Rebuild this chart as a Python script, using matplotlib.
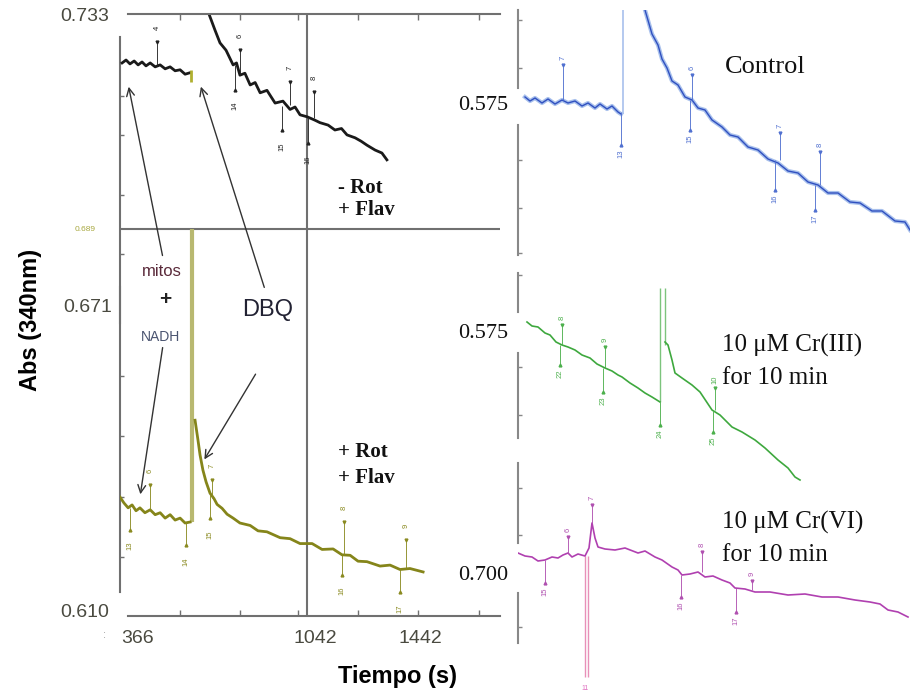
import numpy as np
import matplotlib.pyplot as plt

# ---------------- data ----------------
# left panel: time (s) vs Abs(340nm)
blk1_t = [309, 324, 339, 355, 370, 385, 400, 416, 435, 454, 473, 492, 511, 530, 549, 568]
blk1_a = [.7230, .7236, .7228, .7234, .7226, .7232, .7224, .7230, .7222, .7226, .7218, .7222,
          .7214, .7216, .7207, .7210]
blk2_t = [640, 663, 682, 705, 732, 745, 758, 777, 797, 816, 835, 861, 892, 922, 949, 968, 987,
          1014, 1044, 1063, 1094, 1120, 1145, 1166, 1197, 1220, 1242, 1273, 1299, 1318]
blk2_a = [.7330, .7297, .7271, .7256, .7226, .7230, .7205, .7209, .7185, .7190, .7169, .7174,
          .7148, .7152, .7135, .7140, .7124, .7120, .7113, .7108, .7103, .7093, .7096, .7083,
          .7077, .7070, .7062, .7052, .7046, .7032]

olv1_t = [301, 316, 332, 347, 362, 377, 396, 416, 435, 454, 473, 492, 511, 530, 549, 568]
olv1_a = [.6343, .6331, .6321, .6327, .6315, .6321, .6311, .6317, .6307, .6311, .6300, .6307,
          .6296, .6300, .6290, .6292]
olv2_t = [587, 598, 606, 617, 629, 644, 659, 671, 690, 709, 732, 758, 797, 827, 861, 911, 949,
          987, 1033, 1071, 1113, 1147, 1178, 1208, 1242, 1292, 1330, 1368, 1406, 1456]
olv2_a = [.6500, .6460, .6429, .6398, .6374, .6351, .6340, .6328, .6320, .6308, .6300, .6290,
          .6285, .6274, .6272, .6260, .6258, .6248, .6248, .6236, .6237, .6225, .6224, .6212,
          .6211, .6202, .6204, .6195, .6197, .6190]
olv_spike_t = 576
olv_spike_a = (.6292, .689)

# event marks: time, trace value, tip value, label
blk_mk_t = [442, 758, 739, 949, 918, 1040, 1017]
blk_mk_a0 = [.7224, .7205, .7226, .7144, .7142, .7117, .7117]
blk_mk_a1 = [.7273, .7256, .7175, .7191, .7093, .7171, .7066]
blk_mk_lbl = ['4', '6', '14', '7', '15', '8', '16']

olv_mk_t = [416, 339, 553, 652, 644, 1155, 1147, 1391, 1368]
olv_mk_a0 = [.6317, .6321, .6292, .6341, .6347, .6225, .6225, .6198, .6198]
olv_mk_a1 = [.6368, .6276, .6245, .6378, .6300, .6292, .6184, .6255, .6149]
olv_mk_lbl = ['6', '13', '14', '7', '15', '8', '16', '9', '17']

left_xticks = [530, 758, 979, 1208, 1437, 1669]
left_yticks = [.71625, .70828, .69602, .68397, .65904, .64679, .63432, .62207]

# right panels: time (s) vs Abs
ctl1_t = [28, 48, 68, 96, 120, 148, 176, 200, 228, 256, 280, 308, 328, 356, 376, 400, 412]
ctl1_a = [.5766, .5762, .5765, .5760, .5764, .5759, .5763, .5760, .5762, .5757, .5760, .5755,
          .5759, .5754, .5757, .5751, .5749]
ctl2_t = [508, 536, 560, 576, 596, 616, 640, 668, 696, 720, 748, 776, 816, 848, 880, 920, 960,
          1000, 1040, 1080, 1120, 1160, 1200, 1240, 1280, 1328, 1368, 1416, 1456, 1508, 1548, 1568]
ctl2_a = [.5853, .5829, .5818, .5804, .5795, .5782, .5778, .5766, .5763, .5755, .5753, .5743,
          .5736, .5728, .5726, .5716, .5713, .5704, .5700, .5692, .5690, .5681, .5678, .5670,
          .5670, .5661, .5660, .5652, .5652, .5642, .5641, .5633]
ctl_mk_t = [180, 412, 696, 688, 1048, 1028, 1208, 1188]
ctl_mk_a0 = [.5763, .5751, .5763, .5763, .5703, .5703, .5678, .5678]
ctl_mk_a1 = [.5798, .5718, .5788, .5733, .5730, .5673, .5711, .5653]
ctl_mk_lbl = ['7', '13', '6', '15', '7', '16', '8', '17']

cr3_1_t = [36, 56, 80, 108, 128, 152, 176, 200, 228, 256, 288, 316, 348, 376, 400, 416, 448,
           480, 508, 536, 568]
cr3_1_a = [.5761, .5757, .5756, .5750, .5748, .5741, .5738, .5736, .5733, .5728, .5725, .5719,
           .5715, .5712, .5708, .5706, .5700, .5695, .5690, .5686, .5681]
cr3_2_t = [588, 600, 616, 628, 656, 696, 728, 776, 808, 856, 896, 948, 988, 1040, 1080, 1108, 1128]
cr3_2_a = [.5741, .5738, .5723, .5710, .5705, .5698, .5691, .5673, .5668, .5656, .5651, .5643,
           .5635, .5623, .5615, .5606, .5603]
cr3_mk_t = [176, 168, 348, 340, 568, 788, 780]
cr3_mk_a0 = [.5738, .5738, .5715, .5715, .5681, .5673, .5673]
cr3_mk_a1 = [.5758, .5718, .5736, .5691, .5658, .5695, .5651]
cr3_mk_lbl = ['8', '22', '9', '23', '24', '10', '25']

cr6_t = [0, 28, 56, 80, 108, 136, 160, 180, 200, 216, 240, 268, 284, 296, 308, 320, 348, 388,
         428, 480, 508, 548, 576, 616, 640, 656, 688, 720, 748, 780, 816, 848, 868, 908, 948,
         1008, 1080, 1148, 1216, 1280, 1348, 1408, 1448, 1480, 1520, 1560]
cr6_a = [.7022, .7019, .7018, .7014, .7015, .7018, .7017, .7020, .7022, .7018, .7021, .7019,
         .7027, .7052, .7037, .7028, .7026, .7025, .7027, .7022, .7024, .7018, .7015, .7008,
         .7005, .7000, .7001, .7003, .6998, .6999, .6995, .6992, .6987, .6986, .6983, .6983,
         .6980, .6981, .6978, .6978, .6975, .6973, .6971, .6965, .6963, .6958]
cr6_mk_t = [108, 200, 296, 652, 736, 872, 936]
cr6_mk_a0 = [.7015, .7022, .7052, .7000, .7003, .6987, .6985]
cr6_mk_a1 = [.6992, .7038, .7070, .6978, .7023, .6963, .6994]
cr6_mk_lbl = ['15', '6', '7', '16', '8', '17', '9']

SANS = 'Liberation Sans'
SERIF = 'Liberation Serif'
GRAY = '#707070'


def px_box(x0, y0, x1, y1):
    # axes rectangle from pixel edges of the 910x694 canvas (origin top-left)
    return [x0 / 910, 1 - y1 / 694, (x1 - x0) / 910, (y1 - y0) / 694]


def marks(ax, t, a0, a1, lbl, color):
    lo, hi = ax.get_ylim()
    off = 0.02 * (hi - lo)
    ax.vlines(t, a0, a1, color=color, lw=0.7, alpha=0.9)
    for ti, p, q, s in zip(t, a0, a1, lbl):
        up = q > p
        ax.plot(ti, q, marker='v' if up else '^', ms=2, color=color)
        ax.text(ti, q + (off if up else -off), s, rotation=90, fontsize=5.5, color=color,
                ha='center', va='bottom' if up else 'top', family=SANS)


fig = plt.figure(figsize=(9.1, 6.94), dpi=100)

# ---------------- left panel ----------------
ax = fig.add_axes(px_box(120, 14, 500, 616))
ax.patch.set_alpha(0)
ax.set_xlim(301, 1749)
ax.set_ylim(0.610, 0.733)
for s in ['left', 'right']:
    ax.spines[s].set_visible(False)
for s in ['top', 'bottom']:
    ax.spines[s].set_bounds(332, 1749)
    ax.spines[s].set_color(GRAY)
    ax.spines[s].set_linewidth(1.5)
ax.axhline(0.689, color=GRAY, lw=1.5)
ax.axvline(1014, color=GRAY, lw=1.5)
ax.axvline(301, ymin=0.040, ymax=0.5465, color=GRAY, lw=1.5, clip_on=False)
ax.axvline(301, ymin=0.4867, ymax=0.9618, color=GRAY, lw=1.5, clip_on=False)
ax.set_xticks(left_xticks)
ax.set_xticklabels([])
ax.set_yticks(left_yticks)
ax.set_yticklabels([])
ax.tick_params(axis='x', top=True, bottom=True, direction='in', length=4, color=GRAY, width=1)
ax.tick_params(axis='y', left=True, direction='in', length=3, color=GRAY, width=1)

# black trace (- Rot + Flav)
ax.plot(blk1_t, blk1_a, color='#1a1a1a', lw=2)
ax.plot(blk2_t, blk2_a, color='#1a1a1a', lw=2)
ax.vlines(572, .7191, .7216, color='#b0b030', lw=2)
marks(ax, blk_mk_t, blk_mk_a0, blk_mk_a1, blk_mk_lbl, '#222222')

# olive trace (+ Rot + Flav)
ax.vlines(olv_spike_t - 6, olv_spike_a[0], .6500, color='#b8b870', lw=1)
ax.vlines(olv_spike_t, olv_spike_a[0], olv_spike_a[1], color='#b8b870', lw=3)
ax.plot(olv1_t, olv1_a, color='#85851a', lw=2)
ax.plot(olv2_t, olv2_a, color='#85851a', lw=2)
marks(ax, olv_mk_t, olv_mk_a0, olv_mk_a1, olv_mk_lbl, '#8a8a20')

# axis numbers
num_kw = dict(family=SANS, fontsize=14, color='#4a4a40', ha='center', va='center', clip_on=False)
ax.text(168, .7324, '0.733', **num_kw)
ax.text(179, .6731, '0.671', **num_kw)
ax.text(168, .6108, '0.610', **num_kw)
ax.text(168, .6890, '0.689', family=SANS, fontsize=6, color='#a8a840', ha='center', va='center')
for tv, s in [(366, '366'), (1044, '1042'), (1444, '1442')]:
    ax.text(tv, .6055, s, **num_kw)
ax.text(243, .6062, ':', family=SANS, fontsize=8, color='#999999', ha='center', va='center',
        clip_on=False)

# condition labels
bold_serif = dict(family=SERIF, fontsize=15, fontweight='bold', color='#111111', va='center')
ax.text(1132, .6975, '- Rot', **bold_serif)
ax.text(1132, .6930, '+ Flav', **bold_serif)
ax.text(1132, .6435, '+ Rot', **bold_serif)
ax.text(1132, .6382, '+ Flav', **bold_serif)

# annotations
ax.text(461, .6803, 'mitos', family=SANS, fontsize=12, color='#5a2a3a', ha='center', va='center')
ax.text(473, .6746, '+', family=SANS, fontsize=15, fontweight='bold', color='#222222',
        ha='center', va='center')
ax.text(454, .6670, 'NADH', family=SANS, fontsize=10, color='#4a5470', ha='center', va='center')
ax.text(865, .6725, 'DBQ', family=SANS, fontsize=17, color='#222233', ha='center', va='center')
arr = dict(arrowstyle='->', color='#333333', lw=1, mutation_scale=14)
ax.annotate('', xy=(332, .7187), xytext=(465, .6831), arrowprops=arr)
ax.annotate('', xy=(606, .7187), xytext=(854, .6766), arrowprops=arr)
ax.annotate('', xy=(377, .6343), xytext=(465, .6654), arrowprops=arr)
ax.annotate('', xy=(617, .6415), xytext=(823, .6599), arrowprops=arr)

fig.text(0.4363, 0.0245, 'Tiempo (s)', family=SANS, fontsize=17, fontweight='bold',
         ha='center', va='center')
fig.text(0.033, 0.539, 'Abs (340nm)', family=SANS, fontsize=17, fontweight='bold',
         rotation=90, ha='center', va='center')

# ---------------- right panels ----------------
right = [
    (px_box(518, 10, 910, 258), (0.5605, 0.5853), [(1.0, 0.6855), (0.5363, 0.0121)],
     [.5843, .5795, .5703, .5655, .5610]),
    (px_box(518, 265, 910, 490), (0.5593, 0.5818), [(0.9644, 0.7911), (0.6089, 0.2311)],
     [.5808, .5716, .5668]),
    (px_box(518, 455, 910, 694), (0.6881, 0.7120), [(0.9665, 0.6318), (0.4226, 0.2134)],
     [.7087, .7040, .6948]),
]
rax = []
for box, yl, segs, yt in right:
    a = fig.add_axes(box)
    a.patch.set_alpha(0)
    a.set_xlim(0, 1568)
    a.set_ylim(*yl)
    for s in a.spines.values():
        s.set_visible(False)
    for top, bot in segs:
        a.axvline(0, ymin=bot, ymax=top, color='#888888', lw=1.5, clip_on=False)
    a.set_xticks([])
    a.set_yticks(yt)
    a.set_yticklabels([])
    a.tick_params(axis='y', direction='in', length=3, color='#888888', width=1)
    rax.append(a)
a1, a2, a3 = rax

# Control (blue)
a1.vlines(420, .5749, .5853, color='#a8c0ec', lw=1.2)
a1.plot(ctl1_t, ctl1_a, color='#a8c0ec', lw=3)
a1.plot(ctl1_t, ctl1_a, color='#3050c0', lw=1)
a1.plot(ctl2_t, ctl2_a, color='#a8c0ec', lw=3)
a1.plot(ctl2_t, ctl2_a, color='#3050c0', lw=1)
marks(a1, ctl_mk_t, ctl_mk_a0, ctl_mk_a1, ctl_mk_lbl, '#5070d0')

# Cr(III) (green)
a2.vlines([568, 588], [.5681, .5738], .5795, color='#7cc47c', lw=1)
a2.plot(cr3_1_t, cr3_1_a, color='#3ea83e', lw=1.2)
a2.plot(cr3_2_t, cr3_2_a, color='#3ea83e', lw=1.2)
marks(a2, cr3_mk_t, cr3_mk_a0, cr3_mk_a1, cr3_mk_lbl, '#4cb04c')

# Cr(VI) (magenta)
a3.vlines([268, 280], .6898, .7019, color='#e890b8', lw=1)
a3.plot(cr6_t, cr6_a, color='#b040b0', lw=1.2)
marks(a3, cr6_mk_t, cr6_mk_a0, cr6_mk_a1, cr6_mk_lbl, '#b050b0')
a3.text(268, .6887, '11', family=SANS, fontsize=5, color='#e070c0', ha='center', va='center',
        clip_on=False)

ser = dict(family=SERIF, color='#111111', va='center')
a1.text(-140, .5758, '0.575', fontsize=16, ha='center', clip_on=False, **ser)
a2.text(-140, .5750, '0.575', fontsize=16, ha='center', clip_on=False, **ser)
a3.text(-140, .7000, '0.700', fontsize=16, ha='center', clip_on=False, **ser)
a1.text(988, .5796, 'Control', fontsize=19, ha='center', **ser)
a2.text(816, .5738, '10 \u03bcM Cr(III)', fontsize=18, ha='left', **ser)
a2.text(816, .5705, 'for 10 min', fontsize=18, ha='left', **ser)
a3.text(816, .7053, '10 \u03bcM Cr(VI)', fontsize=18, ha='left', **ser)
a3.text(816, .7020, 'for 10 min', fontsize=18, ha='left', **ser)

fig.savefig('out.png', dpi=100)
